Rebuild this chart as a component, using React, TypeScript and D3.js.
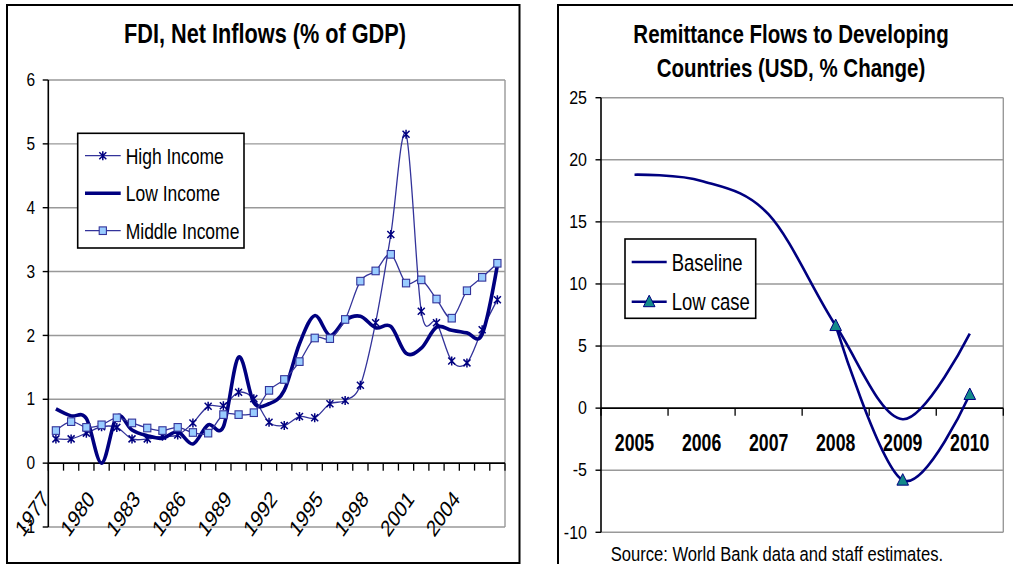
import React from 'react';
import * as d3 from 'd3';

// ---------- Data: FDI chart ----------
const fdiYears = ['1977','1978','1979','1980','1981','1982','1983','1984','1985','1986','1987','1988','1989','1990','1991','1992','1993','1994','1995','1996','1997','1998','1999','2000','2001','2002','2003','2004','2005','2006'];
const fdiLabelYears = ['1977','1980','1983','1986','1989','1992','1995','1998','2001','2004'];
const highIncome = [0.38,0.38,0.47,0.57,0.56,0.38,0.38,0.42,0.44,0.63,0.89,0.90,1.11,1.01,0.64,0.59,0.73,0.71,0.93,0.98,1.22,2.20,3.58,5.15,2.38,2.20,1.60,1.57,2.09,2.56];
const lowIncome = [0.85,0.74,0.70,0.0,0.73,0.52,0.43,0.39,0.49,0.30,0.60,0.57,1.66,0.95,0.93,1.14,1.87,2.31,2.00,2.24,2.30,2.12,2.14,1.72,1.80,2.13,2.08,2.04,2.02,3.10];
const middleIncome = [0.51,0.65,0.56,0.60,0.71,0.63,0.55,0.51,0.56,0.48,0.47,0.76,0.76,0.79,1.14,1.31,1.59,1.96,1.95,2.25,2.85,3.01,3.27,2.82,2.87,2.57,2.27,2.70,2.91,3.13];
const fdiYTicks = [-1,0,1,2,3,4,5,6];
const fdiGrid = [1,2,3,4,5,6];

// ---------- Data: Remittance chart ----------
const remitYears = ['2005','2006','2007','2008','2009','2010'];
const baseline = [18.8,18.3,15.6,6.65,-0.9,6.0];
const lowCaseYears = ['2008','2009','2010'];
const lowCase = [6.65,-5.8,1.1];
const remitYTicks = [-10,-5,0,5,10,15,20,25];
const remitGrid = [-10,-5,5,10,15,20,25];

const FONT = '"Liberation Sans", Arial, sans-serif';
const NAVY = '#000080';
const THIN = '#33339a';

function T({ x, y, sy = 1.28, children, ...rest }: any) {
  return (
    <g transform={`translate(${x},${y}) scale(1,${sy})`}>
      <text fontFamily={FONT} fill="#000" {...rest}>{children}</text>
    </g>
  );
}

const starPath = 'M-3.5,-3.5L3.5,3.5M-3.5,3.5L3.5,-3.5M0,-4.5L0,4.5';

export default function App() {
  // ----- FDI scales -----
  const fx = d3.scaleBand<string>().domain(fdiYears).range([48.3, 505]).padding(0);
  const fcx = (d: string) => (fx(d) as number) + fx.bandwidth() / 2;
  const fy = d3.scaleLinear().domain([-1, 6]).range([527, 80]);
  const curve = d3.curveCardinal.tension(0);
  const fLine = (vals: number[]) =>
    d3.line<number>().x((_, i) => fcx(fdiYears[i])).y((v) => fy(v)).curve(curve)(vals) as string;
  const fTickXs = [...fdiYears.map((d) => fx(d) as number), 505];

  // ----- Remittance scales -----
  const rx = d3.scaleBand<string>().domain(remitYears).range([601, 1003.3]).padding(0);
  const rcx = (d: string) => (rx(d) as number) + rx.bandwidth() / 2;
  const ry = d3.scaleLinear().domain([-10, 25]).range([532.3, 97.7]);
  const baseLine = d3.line<number>().x((_, i) => rcx(remitYears[i])).y((v) => ry(v)).curve(curve)(baseline) as string;
  const lowLine = d3.line<number>().x((_, i) => rcx(lowCaseYears[i])).y((v) => ry(v)).curve(curve)(lowCase) as string;
  const rTickXs = [...remitYears.map((d) => rx(d) as number), 1003.3];

  const tri = (cx: number, cy: number) => `M${cx},${cy - 6.5}L${cx + 5.8},${cy + 5}L${cx - 5.8},${cy + 5}Z`;

  return (
    <svg width={1013} height={564} style={{ position: 'absolute', left: 0, top: 0, background: '#fff' }}>
      <rect x={0} y={0} width={1013} height={564} fill="#fff" />

      {/* ===================== LEFT CHART ===================== */}
      <rect x={7} y={5} width={512.5} height={558} fill="none" stroke="#000" strokeWidth={2} />
      <T x={265} y={42.7} sy={1.29} fontSize={21.7} fontWeight="bold" textAnchor="middle">FDI, Net Inflows (% of GDP)</T>

      {/* grid + border */}
      {fdiGrid.map((v) => (
        <line key={v} x1={48.3} x2={505} y1={fy(v)} y2={fy(v)} stroke="#999" strokeWidth={1.4} />
      ))}
      <line x1={505} x2={505} y1={fy(6)} y2={fy(-1)} stroke="#999" strokeWidth={1.4} />
      <line x1={48.3} x2={505} y1={fy(-1)} y2={fy(-1)} stroke="#999" strokeWidth={1.4} />

      {/* y axis */}
      <line x1={48.3} x2={48.3} y1={fy(6)} y2={fy(-1)} stroke="#000" strokeWidth={1.6} />
      {fdiYTicks.map((v) => (
        <g key={v}>
          <line x1={42.7} x2={48.3} y1={fy(v)} y2={fy(v)} stroke="#000" strokeWidth={1.4} />
          <T x={35} y={fy(v) + 6.2} sy={1.15} fontSize={15.5} textAnchor="end">{String(v)}</T>
        </g>
      ))}

      {/* x axis at 0 */}
      <line x1={48.3} x2={505} y1={fy(0)} y2={fy(0)} stroke="#000" strokeWidth={1.8} />
      {fTickXs.map((x, i) => (
        <line key={i} x1={x} x2={x} y1={fy(0)} y2={fy(0) + 7.5} stroke="#000" strokeWidth={1.3} />
      ))}
      {fdiLabelYears.map((d) => (
        <g key={d} transform={`translate(${fcx(d) - 6},${500}) scale(1,1.28) rotate(-48)`}>
          <text fontFamily={FONT} fontSize={18} textAnchor="end" fill="#000">{d}</text>
        </g>
      ))}

      {/* series: High income */}
      <path d={fLine(highIncome)} fill="none" stroke={THIN} strokeWidth={1.3} />
      {highIncome.map((v, i) => (
        <path key={i} d={starPath} transform={`translate(${fcx(fdiYears[i])},${fy(v)})`} stroke={NAVY} strokeWidth={1.5} fill="none" />
      ))}
      {/* Low income */}
      <path d={fLine(lowIncome)} fill="none" stroke={NAVY} strokeWidth={3.6} strokeLinejoin="round" />
      {/* Middle income */}
      <path d={fLine(middleIncome)} fill="none" stroke={THIN} strokeWidth={1.3} />
      {middleIncome.map((v, i) => (
        <rect key={i} x={fcx(fdiYears[i]) - 3.6} y={fy(v) - 3.8} width={7.2} height={7.6} fill="#99ccff" stroke={THIN} strokeWidth={1.1} />
      ))}

      {/* legend */}
      <rect x={77.7} y={133.3} width={166.3} height={114.7} fill="#fff" stroke="#000" strokeWidth={1.6} />
      <line x1={85} x2={120.7} y1={155.7} y2={155.7} stroke={THIN} strokeWidth={1.3} />
      <path d={starPath} transform="translate(102.8,155.7)" stroke={NAVY} strokeWidth={1.5} fill="none" />
      <T x={125.7} y={163.7} fontSize={17.5}>High Income</T>
      <line x1={85} x2={120.7} y1={193.3} y2={193.3} stroke={NAVY} strokeWidth={3.6} />
      <T x={125.7} y={201.3} fontSize={17.5}>Low Income</T>
      <line x1={85} x2={120.7} y1={230.7} y2={230.7} stroke={THIN} strokeWidth={1.3} />
      <rect x={102.8 - 3.6} y={230.7 - 3.8} width={7.2} height={7.6} fill="#99ccff" stroke={THIN} strokeWidth={1.1} />
      <T x={125.7} y={238.7} fontSize={17.5}>Middle Income</T>

      {/* ===================== RIGHT CHART ===================== */}
      <rect x={558} y={5} width={470} height={570} fill="none" stroke="#000" strokeWidth={2} />
      <T x={791} y={42.7} sy={1.25} fontSize={20.5} fontWeight="bold" textAnchor="middle">Remittance Flows to Developing</T>
      <T x={791} y={77.3} sy={1.25} fontSize={20.5} fontWeight="bold" textAnchor="middle">Countries (USD, % Change)</T>

      {remitGrid.map((v) => (
        <line key={v} x1={601} x2={1003.3} y1={ry(v)} y2={ry(v)} stroke="#999" strokeWidth={1.4} />
      ))}
      <line x1={1003.3} x2={1003.3} y1={ry(25)} y2={ry(-10)} stroke="#999" strokeWidth={1.4} />

      <line x1={601} x2={601} y1={ry(25)} y2={ry(-10)} stroke="#000" strokeWidth={1.6} />
      {remitYTicks.map((v) => (
        <g key={v}>
          <line x1={595.5} x2={601} y1={ry(v)} y2={ry(v)} stroke="#000" strokeWidth={1.4} />
          <T x={587} y={ry(v) + 6.2} sy={1.15} fontSize={16} textAnchor="end">{String(v)}</T>
        </g>
      ))}

      <line x1={601} x2={1003.3} y1={ry(0)} y2={ry(0)} stroke="#000" strokeWidth={1.8} />
      {rTickXs.map((x, i) => (
        <line key={i} x1={x} x2={x} y1={ry(0)} y2={ry(0) + 7.5} stroke="#000" strokeWidth={1.3} />
      ))}
      {remitYears.map((d) => (
        <T key={d} x={rcx(d)} y={450.5} sy={1.3} fontSize={17.7} fontWeight="bold" textAnchor="middle">{d}</T>
      ))}

      <path d={baseLine} fill="none" stroke={NAVY} strokeWidth={2.6} strokeLinejoin="round" />
      <path d={lowLine} fill="none" stroke={NAVY} strokeWidth={2.6} strokeLinejoin="round" />
      {lowCase.map((v, i) => (
        <path key={i} d={tri(rcx(lowCaseYears[i]), ry(v))} fill="#138a8a" stroke={NAVY} strokeWidth={1} />
      ))}

      {/* legend */}
      <rect x={625} y={239} width={130.7} height={79.3} fill="#fff" stroke="#000" strokeWidth={1.6} />
      <line x1={631.7} x2={666.7} y1={262} y2={262} stroke={NAVY} strokeWidth={2.6} />
      <T x={671.7} y={270.5} fontSize={18.5}>Baseline</T>
      <line x1={631.7} x2={666.7} y1={301.7} y2={301.7} stroke={NAVY} strokeWidth={2.6} />
      <path d={tri(649.2, 301.7)} fill="#138a8a" stroke={NAVY} strokeWidth={1} />
      <T x={671.7} y={310.2} fontSize={18.5}>Low case</T>

      <T x={610.7} y={560.5} sy={1.26} fontSize={16.6}>Source: World Bank data and staff estimates.</T>
    </svg>
  );
}
